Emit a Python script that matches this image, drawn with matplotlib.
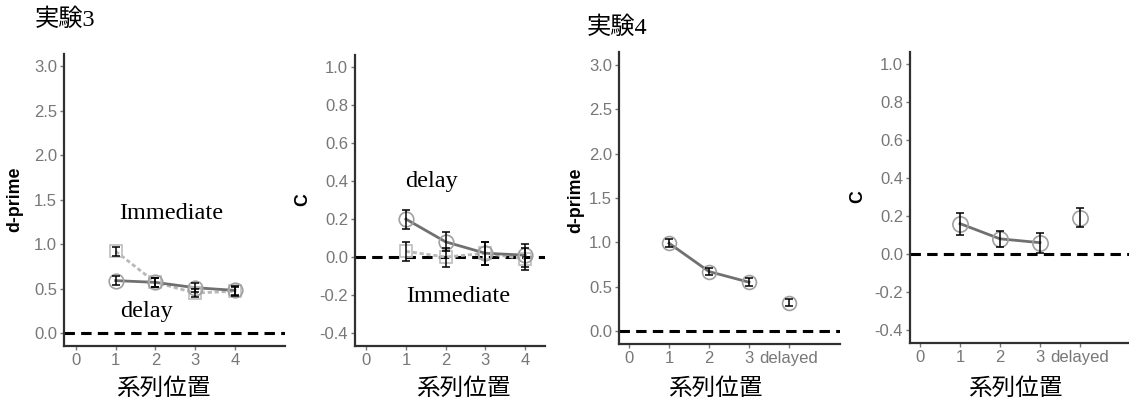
import matplotlib
matplotlib.use("Agg")
import matplotlib.pyplot as plt

plt.rcParams['lines.scale_dashes'] = False

# ---------------- data ----------------
exp3_pos = [1, 2, 3, 4]
exp3_dprime_immediate = [0.92, 0.57, 0.45, 0.47]
exp3_dprime_immediate_err = [0.05, 0.05, 0.05, 0.05]
exp3_dprime_delay = [0.59, 0.57, 0.51, 0.48]
exp3_dprime_delay_err = [0.05, 0.05, 0.05, 0.05]
exp3_c_immediate = [0.03, 0.00, 0.02, -0.01]
exp3_c_immediate_err = [0.05, 0.05, 0.06, 0.06]
exp3_c_delay = [0.20, 0.08, 0.02, 0.01]
exp3_c_delay_err = [0.05, 0.05, 0.06, 0.06]

exp4_pos = [1, 2, 3]
exp4_delayed_pos = [4]
exp4_dprime = [0.99, 0.67, 0.55]
exp4_dprime_err = [0.045, 0.04, 0.045]
exp4_dprime_delayed = [0.32]
exp4_dprime_delayed_err = [0.04]
exp4_c = [0.16, 0.08, 0.06]
exp4_c_err = [0.058, 0.042, 0.053]
exp4_c_delayed = [0.19]
exp4_c_delayed_err = [0.05]

exp3_xticks = [0, 1, 2, 3, 4]
exp3_xticklabels = ["0", "1", "2", "3", "4"]
exp4_xticks = [0, 1, 2, 3, 4]
exp4_xticklabels = ["0", "1", "2", "3", "delayed"]
dprime_yticks = [0.0, 0.5, 1.0, 1.5, 2.0, 2.5, 3.0]
c_yticks = [-0.4, -0.2, 0.0, 0.2, 0.4, 0.6, 0.8, 1.0]

# ---------------- figure ----------------
W, H = 1129, 401
fig = plt.figure(figsize=(W / 100, H / 100), dpi=100)
fig.patch.set_facecolor("white")


def px_axes(left, top, right, bottom):
    return fig.add_axes([left / W, 1 - bottom / H, (right - left) / W, (bottom - top) / H])


TICK_COLOR = "#777777"
SANS = "Liberation Sans"
SERIF = "Liberation Serif"
CJK = ["Liberation Serif", "Noto Sans CJK JP"]


def style(ax, xlim, ylim, xticks, xlabels, yticks, yfmt):
    ax.set_xlim(*xlim)
    ax.set_ylim(*ylim)
    for s in ["top", "right"]:
        ax.spines[s].set_visible(False)
    for s in ["left", "bottom"]:
        ax.spines[s].set_color("#303030")
        ax.spines[s].set_linewidth(1.6)
    ax.set_xticks(xticks)
    ax.set_xticklabels(xlabels)
    ax.set_yticks(yticks)
    ax.set_yticklabels([yfmt.format(v) for v in yticks])
    ax.tick_params(axis="both", colors=TICK_COLOR, labelcolor=TICK_COLOR,
                   labelsize=12, length=3, width=1, pad=2)
    for lab in ax.get_xticklabels() + ax.get_yticklabels():
        lab.set_fontfamily(SANS)
    ax.axhline(0, color="black", lw=2.2, dashes=(7.5, 4.5), zorder=1)
    ax.set_facecolor("none")


def series(ax, x, y, err, marker, mcolor, lcolor, ls, ms, line=True):
    if line:
        ax.plot(x, y, color=lcolor, lw=2, linestyle=ls, zorder=2)
    ax.plot(x, y, linestyle="none", marker=marker, ms=ms, mfc="none",
            mec=mcolor, mew=1.2, zorder=3)
    ax.errorbar(x, y, yerr=err, fmt="none", ecolor="black", elinewidth=1.1,
                capsize=3.2, capthick=1.1, zorder=4)


# Panel 1: Exp3 d-prime
ax1 = px_axes(64, 54, 285, 346)
style(ax1, (-0.30, 5.26), (-0.146, 3.14), exp3_xticks, exp3_xticklabels, dprime_yticks, "{:.1f}")
series(ax1, exp3_pos, exp3_dprime_immediate, exp3_dprime_immediate_err, "s", "#bdbdbd", "#b8b8b8", (0, (3, 2)), 9)
series(ax1, exp3_pos, exp3_dprime_delay, exp3_dprime_delay_err, "o", "#a0a0a0", "#707070", "-", 10.5)
ax1.text(1.1, 1.35, "Immediate", fontfamily=SERIF, fontsize=17.5, va="center", ha="left")
ax1.text(1.1, 0.24, "delay", fontfamily=SERIF, fontsize=17.5, va="center", ha="left")

# Panel 2: Exp3 C
ax2 = px_axes(355, 55, 545, 346)
style(ax2, (-0.28, 4.5), (-0.468, 1.063), exp3_xticks, exp3_xticklabels, c_yticks, "{:.1f}")
series(ax2, exp3_pos, exp3_c_immediate, exp3_c_immediate_err, "s", "#bdbdbd", "#b8b8b8", (0, (3, 2)), 9)
series(ax2, exp3_pos, exp3_c_delay, exp3_c_delay_err, "o", "#a0a0a0", "#707070", "-", 10.5)
ax2.text(0.97, 0.40, "delay", fontfamily=SERIF, fontsize=17.5, va="center", ha="left")
ax2.text(1.0, -0.21, "Immediate", fontfamily=SERIF, fontsize=17.5, va="center", ha="left")

# Panel 3: Exp4 d-prime
ax3 = px_axes(619, 52, 840, 344)
style(ax3, (-0.25, 5.275), (-0.147, 3.146), exp4_xticks, exp4_xticklabels, dprime_yticks, "{:.1f}")
series(ax3, exp4_pos, exp4_dprime, exp4_dprime_err, "o", "#a0a0a0", "#707070", "-", 10)
series(ax3, exp4_delayed_pos, exp4_dprime_delayed, exp4_dprime_delayed_err, "o", "#a0a0a0", "#707070", "-", 10, line=False)

# Panel 4: Exp4 C
ax4 = px_axes(910, 52, 1129, 343)
style(ax4, (-0.25, 5.225), (-0.468, 1.063), exp4_xticks, exp4_xticklabels, c_yticks, "{:.1f}")
series(ax4, exp4_pos, exp4_c, exp4_c_err, "o", "#a0a0a0", "#707070", "-", 11)
series(ax4, exp4_delayed_pos, exp4_c_delayed, exp4_c_delayed_err, "o", "#a0a0a0", "#707070", "-", 11, line=False)


def ftext(x, y, s, **kw):
    fig.text(x / W, 1 - y / H, s, **kw)


# y labels
ftext(15, 199, "d-prime", rotation=90, fontfamily=SANS, fontweight="bold", fontsize=12.8, ha="center", va="center")
ftext(303, 200, "C", rotation=90, fontfamily=SANS, fontweight="bold", fontsize=12.8, ha="center", va="center")
ftext(576, 200, "d-prime", rotation=90, fontfamily=SANS, fontweight="bold", fontsize=12.8, ha="center", va="center")
ftext(858, 197, "C", rotation=90, fontfamily=SANS, fontweight="bold", fontsize=12.8, ha="center", va="center")

# x labels
for cx in [163, 463, 715, 1015]:
    ftext(cx, 389, "系列位置", fontfamily=CJK, fontsize=17, ha="center", va="center")

# titles
ftext(35, 20, "実験3", fontfamily=CJK, fontsize=17.5, ha="left", va="center")
ftext(587, 28, "実験4", fontfamily=CJK, fontsize=17.5, ha="left", va="center")

fig.savefig("out.png", dpi=100)
